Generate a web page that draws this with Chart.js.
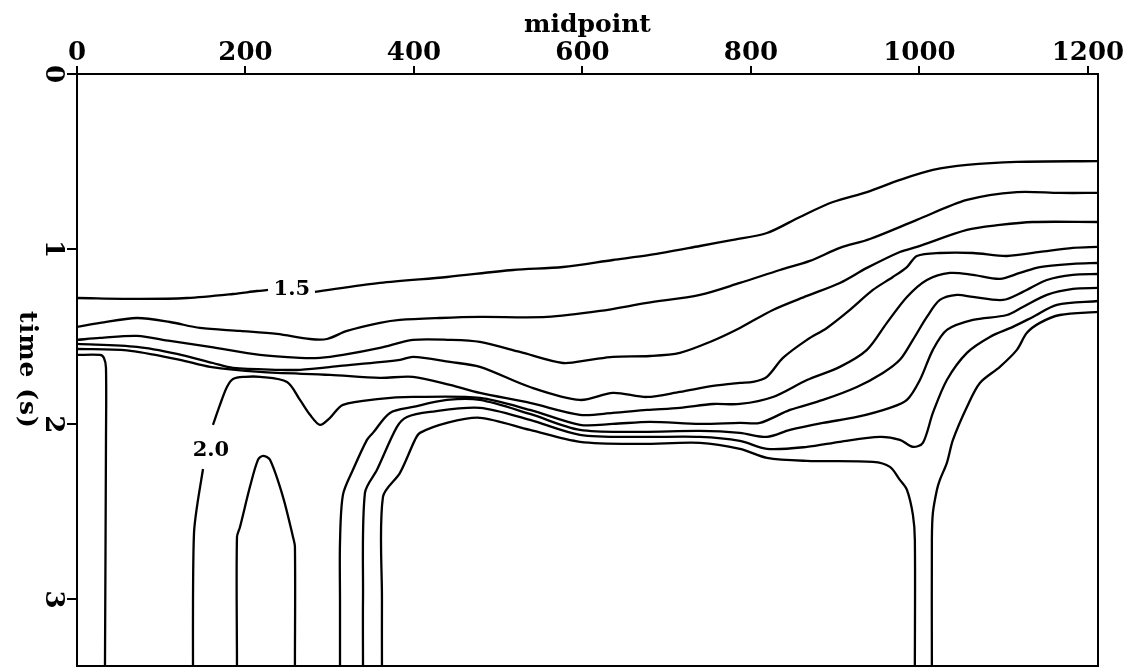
<!DOCTYPE html>
<html>
<head>
<meta charset="utf-8">
<script src="https://cdn.jsdelivr.net/npm/chart.js@4/dist/chart.umd.min.js"></script>
<style>
html,body{margin:0;padding:0;background:#fff;}
canvas{display:block;}
</style>
</head>
<body>
<canvas id="c" width="1128" height="667"></canvas>
<script>
// ---- axes ----
const xTicks = [0, 200, 400, 600, 800, 1000, 1200];
const yTicks = [0, 1, 2, 3];
const xLimits = [0, 1212];
const yLimits = [0, 3.38];
const xTitle = 'midpoint';
const yTitle = 'time (s)';

// ---- contour polylines, points are [midpoint, time (s)] ----
const c15a = [[0,1.279],[74.8,1.284],[130.6,1.279],[185.2,1.256],[213.6,1.239],[226.7,1.233]];
const c15b = [[282.5,1.244],[359.6,1.193],[439.2,1.159],[517.5,1.119],[576.8,1.102],[636.2,1.062],[680.1,1.033],[739.5,0.982],[778.6,0.947],[819,0.908],[858.2,0.816],[897.3,0.731],[937.7,0.674],[976.8,0.605],[1016,0.548],[1056.4,0.519],[1115.7,0.502],[1212,0.497]];
const c16 = [[0,1.444],[27.3,1.421],[71.2,1.393],[110.4,1.416],[146,1.45],[193.5,1.467],[237.4,1.484],[276.6,1.513],[296.7,1.513],[320.5,1.467],[359.6,1.421],[383.4,1.404],[430.9,1.393],[478.3,1.387],[557.9,1.387],[620.8,1.353],[676.5,1.307],[739.5,1.261],[786.9,1.193],[834.4,1.119],[870,1.067],[905.6,0.993],[941.2,0.942],[997,0.833],[1056.4,0.719],[1115.7,0.674],[1166.7,0.679],[1212,0.679]];
const c17 = [[0,1.518],[27.3,1.507],[71.2,1.495],[110.4,1.524],[157.9,1.558],[217.2,1.604],[264.7,1.621],[288.4,1.621],[315.7,1.604],[359.6,1.564],[398.8,1.518],[442.7,1.518],[478.3,1.53],[525.8,1.587],[576.8,1.65],[608.9,1.632],[636.2,1.615],[680.1,1.61],[715.7,1.592],[751.3,1.53],[786.9,1.45],[826.1,1.347],[866.5,1.267],[905.6,1.193],[937.7,1.107],[976.8,1.016],[997,0.987],[1056.4,0.89],[1095.5,0.862],[1134.7,0.845],[1212,0.845]];
const c18 = [[0,1.541],[71.2,1.558],[118.7,1.598],[161.4,1.65],[185.2,1.678],[240.9,1.689],[264.7,1.689],[312.2,1.667],[383.4,1.632],[398.8,1.615],[442.7,1.644],[478.3,1.672],[537.7,1.787],[597,1.861],[636.2,1.821],[676.5,1.844],[715.7,1.815],[754.9,1.781],[786.9,1.764],[802.4,1.758],[819,1.729],[838,1.621],[866.5,1.518],[890.2,1.45],[917.5,1.347],[944.8,1.233],[968.5,1.159],[985.2,1.102],[997,1.039],[1024.3,1.022],[1063.5,1.022],[1103.9,1.039],[1143,1.016],[1182.2,0.993],[1212,0.987]];
const c19 = [[0,1.57],[59.3,1.578],[122.3,1.632],[157.9,1.672],[217.2,1.701],[300.3,1.718],[359.6,1.735],[398.8,1.729],[442.7,1.775],[478.3,1.821],[537.7,1.878],[597,1.946],[636.2,1.935],[676.5,1.918],[715.7,1.906],[754.9,1.884],[786.9,1.884],[826.1,1.844],[866.5,1.747],[905.6,1.672],[937.7,1.575],[961.4,1.421],[985.2,1.273],[1008.9,1.176],[1036.2,1.136],[1063.5,1.147],[1095.5,1.17],[1119.3,1.136],[1143,1.102],[1182.2,1.084],[1212,1.079]];
const c20a = [[137.7,3.38],[137.7,3.002],[138.9,2.62],[142.4,2.471],[149.6,2.255]];
const c20b = [[161.4,2.003],[169.7,1.889],[178,1.787],[185.2,1.741],[199.4,1.729],[217.2,1.729],[249.3,1.758],[264.7,1.861],[276.6,1.946],[288.4,2.003],[300.3,1.963],[315.7,1.889],[359.6,1.855],[398.8,1.844],[478.3,1.849],[537.7,1.918],[597,2.003],[636.2,1.998],[680.1,1.986],[739.5,1.998],[786.9,1.992],[810.7,1.992],[846.3,1.918],[885.5,1.861],[925.8,1.787],[956.6,1.707],[976.8,1.632],[992.3,1.518],[1008.9,1.387],[1024.3,1.29],[1044.5,1.261],[1063.5,1.273],[1099.1,1.29],[1122.8,1.244],[1151.3,1.176],[1182.2,1.147],[1212,1.142]];
const c21 = [[312.2,3.38],[312.2,3.002],[312.2,2.677],[315.7,2.403],[327.6,2.26],[344.2,2.089],[351.3,2.049],[371.5,1.935],[398.8,1.901],[439.2,1.861],[478.3,1.861],[537.7,1.941],[597,2.032],[668.2,2.043],[739.5,2.038],[786.9,2.049],[819,2.072],[846.3,2.032],[885.5,1.992],[925.8,1.958],[965,1.906],[985.2,1.861],[1000.6,1.747],[1016,1.575],[1032.6,1.461],[1063.5,1.404],[1103.9,1.376],[1122.8,1.33],[1151.3,1.261],[1182.2,1.227],[1212,1.221]];
const c22 = [[339.5,3.38],[339.5,3.002],[341.8,2.392],[356.1,2.26],[379.8,2.015],[391.7,1.958],[419,1.929],[478.3,1.906],[537.7,1.975],[597,2.06],[668.2,2.072],[739.5,2.072],[786.9,2.095],[819,2.14],[866.5,2.129],[905.6,2.1],[953.1,2.072],[976.8,2.089],[992.3,2.129],[1004.1,2.106],[1016,1.935],[1032.6,1.747],[1056.4,1.592],[1083.7,1.501],[1111,1.444],[1134.7,1.387],[1163.2,1.318],[1212,1.296]];
const c23 = [[362,3.38],[362,3.002],[363.2,2.414],[383.4,2.277],[401.2,2.089],[407.1,2.049],[439.2,1.992],[478.3,1.963],[537.7,2.032],[597,2.1],[668.2,2.112],[739.5,2.106],[786.9,2.14],[819,2.192],[866.5,2.209],[944.8,2.215],[965,2.243],[976.8,2.317],[985.2,2.374],[992.3,2.517],[994.6,2.66],[994.6,3.38]];
const c24 = [[1014.8,3.38],[1014.8,2.66],[1016,2.506],[1020.8,2.374],[1024.3,2.317],[1032.6,2.22],[1039.8,2.089],[1056.4,1.901],[1071.8,1.764],[1095.5,1.672],[1115.7,1.575],[1127.6,1.478],[1143,1.421],[1166.7,1.376],[1212,1.358]];
const cBox = [[0,1.604],[27.3,1.604],[32,1.621],[34.4,1.678],[34.4,2.089],[33.2,3.38]];
const cDome = [[189.9,3.38],[189.9,2.643],[193.5,2.586],[205.3,2.357],[214.8,2.203],[220.8,2.18],[229.1,2.203],[244.5,2.414],[256.4,2.643],[258.7,2.7],[258.7,3.38]];

// contour value labels [text, midpoint, time]
const contourLabels = [['1.5', 255, 1.228], ['2.0', 159, 2.15]];

const contours = [c15a, c15b, c16, c17, c18, c19, c20a, c20b, c21, c22, c23, c24, cBox, cDome];

const SERIF = '"DejaVu Serif", "Liberation Serif", serif';

const annotate = {
  id: 'annotate',
  afterDraw(chart) {
    const {ctx, chartArea: a, scales} = chart;
    ctx.save();
    ctx.fillStyle = '#000';
    ctx.strokeStyle = '#000';
    // frame (right and bottom edges)
    ctx.lineWidth = 2;
    ctx.beginPath();
    ctx.moveTo(a.right, a.top - 1);
    ctx.lineTo(a.right, a.bottom);
    ctx.lineTo(a.left, a.bottom);
    ctx.stroke();
    // contour labels
    ctx.font = 'bold 21px ' + SERIF;
    ctx.textAlign = 'center';
    ctx.textBaseline = 'middle';
    contourLabels.forEach(([txt, x, t]) => {
      ctx.fillText(txt, scales.x.getPixelForValue(x), scales.y.getPixelForValue(t));
    });
    // y-axis title, reading downward
    ctx.translate(26, (a.top + a.bottom) / 2);
    ctx.rotate(Math.PI / 2);
    ctx.font = 'bold 25px ' + SERIF;
    try { ctx.letterSpacing = '1px'; } catch (e) {}
    ctx.fillText(yTitle, 0, 0);
    ctx.restore();
  }
};

new Chart(document.getElementById('c'), {
  type: 'line',
  data: {
    datasets: contours.map(pts => ({
      data: pts.map(([x, t]) => ({x: x, y: t})),
      borderColor: '#000',
      borderWidth: 2.3,
      pointRadius: 0,
      pointHoverRadius: 0,
      tension: 0.3,
      fill: false
    }))
  },
  options: {
    responsive: false,
    devicePixelRatio: 1,
    animation: false,
    events: [],
    layout: {padding: {top: 0, left: 0, right: 30, bottom: 1}},
    plugins: {legend: {display: false}, tooltip: {enabled: false}},
    scales: {
      x: {
        type: 'linear',
        position: 'top',
        min: xLimits[0],
        max: xLimits[1],
        afterBuildTicks: s => { s.ticks = xTicks.map(v => ({value: v})); },
        afterFit: s => { s.height = 74; s.paddingLeft = 0; s.paddingRight = 0; },
        ticks: {
          font: {family: SERIF, size: 26, weight: 'bold'},
          color: '#000',
          padding: -3,
          minRotation: 0,
          maxRotation: 0,
          autoSkip: false,
          callback: v => String(v)
        },
        grid: {drawOnChartArea: false, color: '#000', lineWidth: 2, tickLength: 8},
        border: {color: '#000', width: 2},
        title: {
          display: true,
          text: xTitle,
          color: '#000',
          font: {family: SERIF, size: 25, weight: 'bold'},
          padding: {top: 10, bottom: 0}
        }
      },
      y: {
        type: 'linear',
        reverse: true,
        min: yLimits[0],
        max: yLimits[1],
        afterBuildTicks: s => { s.ticks = yTicks.map(v => ({value: v})); },
        afterFit: s => { s.width = 77; s.paddingTop = 0; s.paddingBottom = 0; },
        ticks: {
          font: {family: SERIF, size: 26, weight: 'bold'},
          color: '#000',
          padding: 5,
          minRotation: -90,
          maxRotation: -90,
          crossAlign: 'center',
          autoSkip: false,
          callback: v => String(v)
        },
        grid: {drawOnChartArea: false, color: '#000', lineWidth: 2, tickLength: 10},
        border: {color: '#000', width: 2},
        title: {display: false}
      }
    }
  },
  plugins: [annotate]
});
</script>
</body>
</html>
